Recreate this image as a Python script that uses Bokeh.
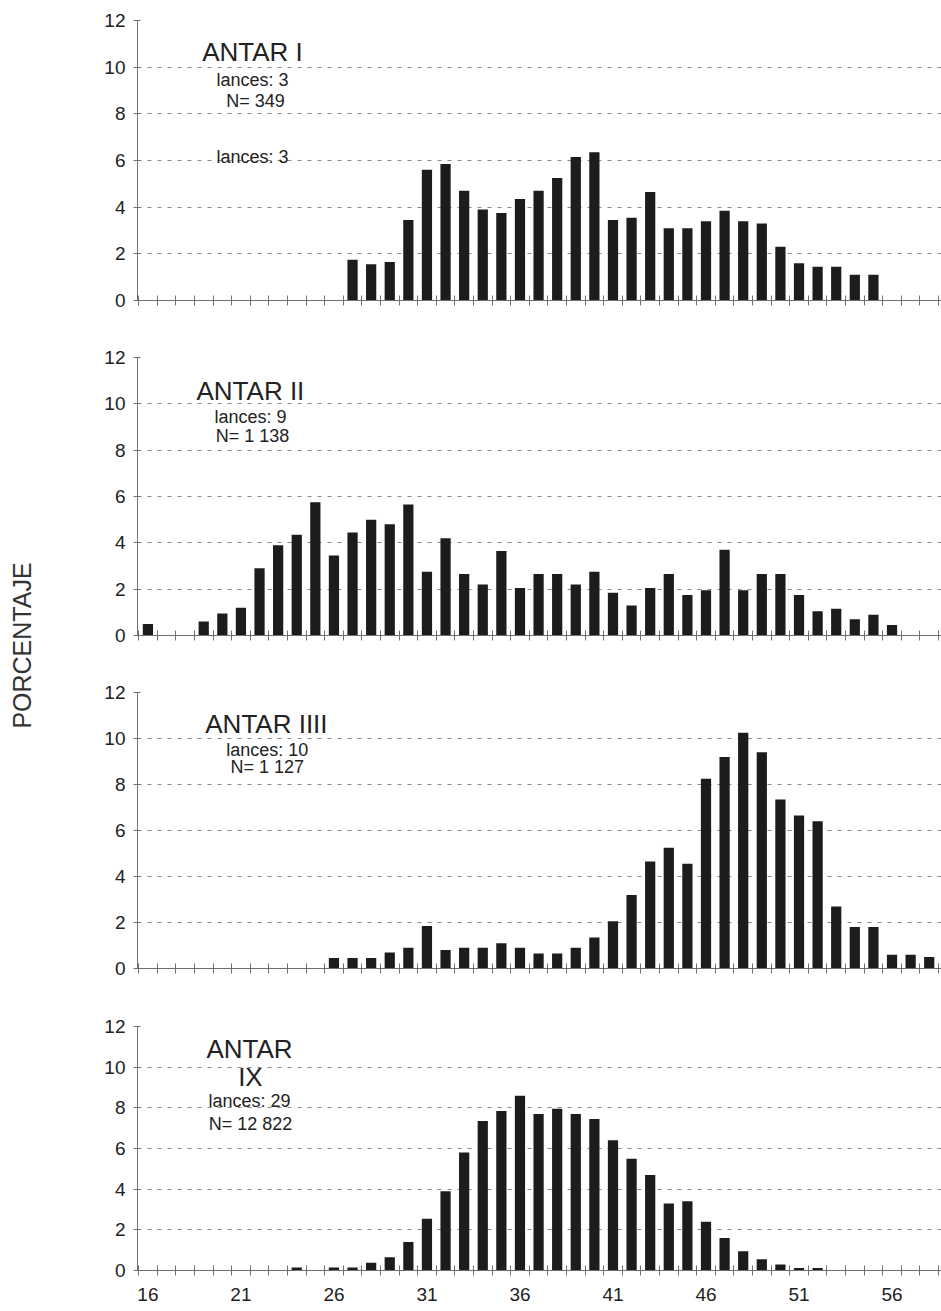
import math
from bokeh.plotting import figure
from bokeh.layouts import column, row
from bokeh.models import FixedTicker, Label, Range1d
from bokeh.embed import file_html
from bokeh.resources import INLINE

# ---------------- data ----------------
len_antar1 = [27, 28, 29, 30, 31, 32, 33, 34, 35, 36, 37, 38, 39, 40, 41, 42, 43, 44, 45,
              46, 47, 48, 49, 50, 51, 52, 53, 54, 55]
pct_antar1 = [1.75, 1.55, 1.65, 3.45, 5.6, 5.85, 4.7, 3.9, 3.75, 4.35, 4.7, 5.25, 6.15, 6.35,
              3.45, 3.55, 4.65, 3.1, 3.1, 3.4, 3.85, 3.4, 3.3, 2.3, 1.6, 1.45, 1.45, 1.1, 1.1]

len_antar2 = [16, 19, 20, 21, 22, 23, 24, 25, 26, 27, 28, 29, 30, 31, 32, 33, 34, 35, 36, 37,
              38, 39, 40, 41, 42, 43, 44, 45, 46, 47, 48, 49, 50, 51, 52, 53, 54, 55, 56]
pct_antar2 = [0.5, 0.6, 0.95, 1.2, 2.9, 3.9, 4.35, 5.75, 3.45, 4.45, 5.0, 4.8, 5.65, 2.75, 4.2,
              2.65, 2.2, 3.65, 2.05, 2.65, 2.65, 2.2, 2.75, 1.85, 1.3, 2.05, 2.65, 1.75, 1.95,
              3.7, 1.95, 2.65, 2.65, 1.75, 1.05, 1.15, 0.7, 0.9, 0.45]

len_antar4 = [26, 27, 28, 29, 30, 31, 32, 33, 34, 35, 36, 37, 38, 39, 40, 41, 42, 43, 44, 45,
              46, 47, 48, 49, 50, 51, 52, 53, 54, 55, 56, 57, 58]
pct_antar4 = [0.46, 0.46, 0.46, 0.7, 0.9, 1.85, 0.8, 0.9, 0.9, 1.1, 0.9, 0.65, 0.65, 0.9, 1.35,
              2.05, 3.2, 4.65, 5.25, 4.55, 8.25, 9.2, 10.25, 9.4, 7.35, 6.65, 6.4, 2.7, 1.8,
              1.8, 0.6, 0.6, 0.5]

len_antar9 = [24, 26, 27, 28, 29, 30, 31, 32, 33, 34, 35, 36, 37, 38, 39, 40, 41, 42, 43, 44,
              45, 46, 47, 48, 49, 50, 51, 52]
pct_antar9 = [0.15, 0.15, 0.15, 0.38, 0.65, 1.4, 2.55, 3.9, 5.8, 7.35, 7.85, 8.6, 7.7, 7.95,
              7.7, 7.45, 6.4, 5.5, 4.7, 3.3, 3.4, 2.4, 1.6, 0.95, 0.55, 0.3, 0.12, 0.12]

y_ticks = [0, 2, 4, 6, 8, 10, 12]
x_label_ticks = [16, 21, 26, 31, 36, 41, 46, 51, 56]
x_minor_ticks = [15.5 + i for i in range(44)]

FONT = "Liberation Sans"
TXT = "#222222"
AX = "#6f6f6f"

# (text, x, y, size) annotation layout per panel
notes1 = [("ANTAR I", 21.62, 10.63, "26px"), ("lances: 3", 21.62, 9.47, "18px"),
          ("N= 349", 21.78, 8.53, "18px"), ("lances: 3", 21.62, 6.13, "18px")]
notes2 = [("ANTAR II", 21.51, 10.57, "26px"), ("lances: 9", 21.51, 9.45, "18px"),
          ("N= 1 138", 21.62, 8.63, "18px")]
notes3 = [("ANTAR IIII", 22.37, 10.65, "26px"), ("lances: 10", 22.42, 9.48, "18px"),
          ("N= 1 127", 22.42, 8.74, "18px")]
notes4 = [("ANTAR", 21.46, 10.87, "26px"), ("IX", 21.51, 9.50, "26px"),
          ("lances: 29", 21.46, 8.33, "18px"), ("N= 12 822", 21.51, 7.2, "18px")]


def make_panel(lengths, pct, notes, height, b_top, b_bottom, show_x_labels):
    p = figure(width=893, height=height, x_range=Range1d(15.44, 58.66),
               y_range=Range1d(0, 12), output_backend="svg", toolbar_location=None,
               min_border_left=89, min_border_right=0, min_border_top=b_top,
               min_border_bottom=b_bottom)
    p.outline_line_color = None
    p.background_fill_color = "white"
    p.border_fill_color = "white"
    p.xgrid.visible = False
    p.ygrid.ticker = FixedTicker(ticks=y_ticks[1:])
    p.ygrid.grid_line_color = "#8a8a8a"
    p.ygrid.grid_line_dash = "4 6"
    p.ygrid.grid_line_width = 1

    p.vbar(x=lengths, top=pct, bottom=0, width=0.55, fill_color="#1c1c1c", line_color=None)

    p.yaxis.ticker = FixedTicker(ticks=y_ticks, minor_ticks=[])
    p.yaxis.axis_line_color = AX
    p.yaxis.major_tick_line_color = AX
    p.yaxis.major_tick_in = 3
    p.yaxis.major_tick_out = 4
    p.yaxis.major_label_standoff = 8
    p.yaxis.major_label_text_font = FONT
    p.yaxis.major_label_text_font_size = "19px"
    p.yaxis.major_label_text_color = TXT

    p.xaxis.ticker = FixedTicker(ticks=x_label_ticks, minor_ticks=x_minor_ticks)
    p.xaxis.axis_line_color = AX
    p.xaxis.major_tick_in = 0
    p.xaxis.major_tick_out = 0
    p.xaxis.minor_tick_line_color = AX
    p.xaxis.minor_tick_in = 5
    p.xaxis.minor_tick_out = 5
    p.xaxis.major_label_text_font = FONT
    p.xaxis.major_label_text_color = TXT
    if show_x_labels:
        p.xaxis.major_label_text_font_size = "19px"
        p.xaxis.major_label_standoff = 12
    else:
        p.xaxis.major_label_text_font_size = "1px"
        p.xaxis.major_label_text_alpha = 0
        p.xaxis.major_label_standoff = 0

    for txt, x, y, size in notes:
        p.add_layout(Label(x=x, y=y, text=txt, text_font=FONT, text_font_size=size,
                           text_color=TXT, text_align="center", text_baseline="middle"))
    return p


f1 = make_panel(len_antar1, pct_antar1, notes1, 319, 20, 19, False)
f2 = make_panel(len_antar2, pct_antar2, notes2, 330, 38, 14, False)
f3 = make_panel(len_antar4, pct_antar4, notes3, 330, 43, 11, False)
f4 = make_panel(len_antar9, pct_antar9, notes4, 324, 47, 32, True)

TOTAL_H = 319 + 330 + 330 + 324
side = figure(width=48, height=TOTAL_H, x_range=Range1d(0, 48), y_range=Range1d(0, TOTAL_H),
              output_backend="svg", toolbar_location=None, min_border=0,
              x_axis_location=None, y_axis_location=None)
side.outline_line_color = None
side.grid.visible = False
side.add_layout(Label(x=21, y=TOTAL_H - 645, text="PORCENTAJE", angle=math.pi / 2,
                      text_font=FONT, text_font_size="25px", text_color="#333333",
                      text_align="center", text_baseline="middle"))

layout = row(side, column(f1, f2, f3, f4))
open("out.html", "w").write(file_html(layout, INLINE))
